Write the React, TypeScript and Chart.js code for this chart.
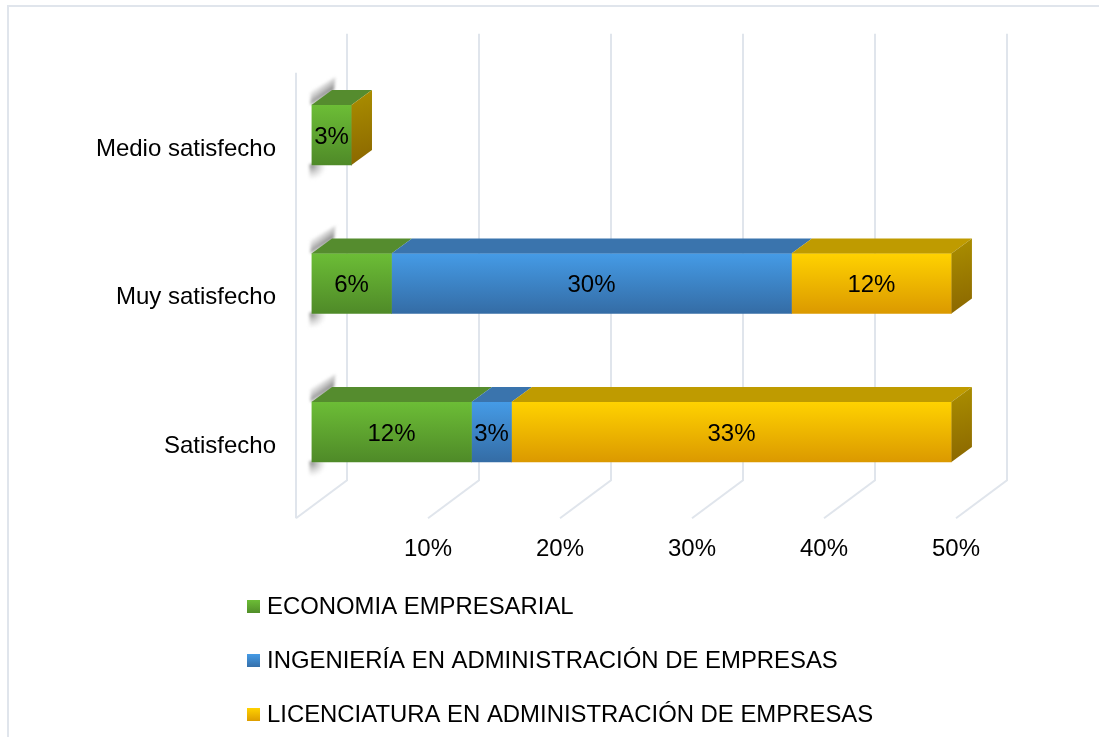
import React, { useEffect, useRef } from "react";
import { Chart, registerables } from "chart.js";

Chart.register(...registerables);

const categories = ["Medio satisfecho", "Muy satisfecho", "Satisfecho"];
const economia = [3.03, 6.06, 12.12];
const ingenieria = [0, 30.3, 3.03];
const licenciatura = [0, 12.12, 33.33];
const seriesNames = [
  "ECONOMIA EMPRESARIAL",
  "INGENIERÍA EN ADMINISTRACIÓN DE EMPRESAS",
  "LICENCIATURA EN ADMINISTRACIÓN DE EMPRESAS",
];
const xTicks = [0, 10, 20, 30, 40, 50];

const FONT = '24px "Liberation Sans", Arial, sans-serif';
const LEGEND_FONT = '23.9px "Liberation Sans", Arial, sans-serif';
const frontGrad: [string, string][] = [
  ["#6cbd36", "#4f8a28"],
  ["#459be6", "#346ca5"],
  ["#ffd200", "#db9900"],
];
const topColors = ["#558c2e", "#3a74ad", "#bf9b00"];
const GRID = "#e0e5ec";
const DX = 20.5;
const DY = -15;

function barGradient(c: any, i: number) {
  const y = c.chart.scales.y;
  const mid = y ? y.getPixelForValue(c.dataIndex) : NaN;
  if (!Number.isFinite(mid)) return frontGrad[i][0];
  const g = c.chart.ctx.createLinearGradient(0, mid - 30, 0, mid + 30);
  g.addColorStop(0, frontGrad[i][0]);
  g.addColorStop(1, frontGrad[i][1]);
  return g;
}

const scene3d = {
  id: "scene3d",
  beforeDraw(chart: any) {
    const { ctx, width, scales } = chart;
    const area = chart.chartArea;
    ctx.save();
    ctx.fillStyle = "#ffffff";
    ctx.fillRect(0, 0, width, chart.height);
    // frame
    ctx.strokeStyle = GRID;
    ctx.lineWidth = 2;
    ctx.beginPath();
    ctx.moveTo(8, 737);
    ctx.lineTo(8, 6);
    ctx.lineTo(1099, 6);
    ctx.stroke();
    // walls
    ctx.beginPath();
    xTicks.forEach((t, i) => {
      const px = scales.x.getPixelForValue(t);
      const fx = px - 15.5;
      const bx = px + 35.5;
      const by = area.bottom - 26;
      ctx.moveTo(fx, area.bottom + 12);
      ctx.lineTo(bx, by);
      ctx.lineTo(bx, area.top - 27);
      if (i === 0) {
        ctx.moveTo(fx, area.bottom + 12);
        ctx.lineTo(fx, area.top + 12);
      }
    });
    ctx.stroke();
    ctx.restore();
  },
  beforeDatasetsDraw(chart: any) {
    const { ctx, scales } = chart;
    const x0 = scales.x.getPixelForValue(0);
    ctx.save();
    categories.forEach((_, i) => {
      const mid = scales.y.getPixelForValue(i);
      const t = mid - 30;
      const b = mid + 30;
      ctx.filter = "blur(1.5px)";
      let g = ctx.createLinearGradient(x0 + 10, t - 7.5, x0 + 2, t - 18.5);
      g.addColorStop(0, "rgba(125,125,125,0.9)");
      g.addColorStop(1, "rgba(190,190,190,0.02)");
      ctx.fillStyle = g;
      ctx.beginPath();
      ctx.moveTo(x0 - 1, t);
      ctx.lineTo(x0 + DX + 2, t + DY);
      ctx.lineTo(x0 + 24, t - 28);
      ctx.lineTo(x0 - 1, t - 13);
      ctx.closePath();
      ctx.fill();
      g = ctx.createRadialGradient(x0, b, 1, x0, b, 15);
      g.addColorStop(0, "rgba(130,130,130,0.85)");
      g.addColorStop(1, "rgba(190,190,190,0)");
      ctx.fillStyle = g;
      ctx.fillRect(x0 - 2, b - 1, 17, 15);
    });
    ctx.restore();
  },
  afterDatasetsDraw(chart: any) {
    const { ctx } = chart;
    ctx.save();
    chart.data.datasets.forEach((_: any, d: number) => {
      chart.getDatasetMeta(d).data.forEach((bar: any) => {
        const x0 = bar.base;
        const x1 = bar.x;
        const t = bar.y - 30;
        if (x1 - x0 > 0.5) {
          ctx.fillStyle = topColors[d];
          ctx.beginPath();
          ctx.moveTo(x0, t);
          ctx.lineTo(x1, t);
          ctx.lineTo(x1 + DX, t + DY);
          ctx.lineTo(x0 + DX, t + DY);
          ctx.closePath();
          ctx.fill();
        }
        if (d === chart.data.datasets.length - 1) {
          const g = ctx.createLinearGradient(x1, t + DY, x1 + DX, t + 60);
          g.addColorStop(0, "#ab8f00");
          g.addColorStop(1, "#8a6600");
          ctx.fillStyle = g;
          ctx.beginPath();
          ctx.moveTo(x1, t);
          ctx.lineTo(x1 + DX, t + DY);
          ctx.lineTo(x1 + DX, t + 60 + DY);
          ctx.lineTo(x1, t + 60);
          ctx.closePath();
          ctx.fill();
        }
      });
    });
    // value labels
    ctx.font = FONT;
    ctx.fillStyle = "#000000";
    ctx.textAlign = "center";
    ctx.textBaseline = "middle";
    chart.data.datasets.forEach((ds: any, d: number) => {
      chart.getDatasetMeta(d).data.forEach((bar: any, i: number) => {
        if (ds.data[i] > 0) {
          ctx.fillText(Math.round(ds.data[i]) + "%", (bar.base + bar.x) / 2, bar.y + 2);
        }
      });
    });
    // legend
    const rows = [607, 661, 715];
    ctx.font = LEGEND_FONT;
    ctx.textAlign = "left";
    chart.data.datasets.forEach((ds: any, d: number) => {
      const y = rows[d];
      const g = ctx.createLinearGradient(0, y - 7, 0, y + 7);
      g.addColorStop(0, frontGrad[d][0]);
      g.addColorStop(1, frontGrad[d][1]);
      ctx.fillStyle = g;
      ctx.fillRect(247, y - 7, 13, 13);
      ctx.fillStyle = "#000000";
      ctx.fillText(ds.label, 267, y);
    });
    ctx.restore();
  },
};

export default function App() {
  const ref = useRef<HTMLCanvasElement>(null);
  useEffect(() => {
    document.body.style.margin = "0";
    const series = [economia, ingenieria, licenciatura];
    const chart = new Chart(ref.current!, {
      type: "bar",
      data: {
        labels: categories,
        datasets: series.map((data, i) => ({
          label: seriesNames[i],
          data,
          backgroundColor: (c: any) => barGradient(c, i),
          barThickness: 60,
          borderWidth: 0,
        })),
      },
      options: {
        indexAxis: "y",
        responsive: false,
        animation: false,
        layout: { padding: { top: 60.75, right: 127.5, left: 0, bottom: 0 } },
        plugins: { legend: { display: false }, title: { display: false }, tooltip: { enabled: false } },
        scales: {
          x: {
            stacked: true,
            min: 0,
            max: 50,
            afterBuildTicks: (s: any) => {
              s.ticks = xTicks.map((value) => ({ value }));
            },
            afterFit: (s: any) => {
              s.height = 230.75;
            },
            grid: { display: false },
            border: { display: false },
            ticks: {
              autoSkip: false,
              maxRotation: 0,
              labelOffset: -15.5,
              padding: 20.5,
              color: "#000000",
              font: { family: '"Liberation Sans", Arial, sans-serif', size: 24 },
              callback: (v: any) => (v === 0 ? "" : v + "%"),
            },
          },
          y: {
            stacked: true,
            afterFit: (s: any) => {
              s.width = 311.5;
            },
            grid: { display: false },
            border: { display: false },
            ticks: {
              labelOffset: 14,
              padding: 27.5,
              color: "#000000",
              font: { family: '"Liberation Sans", Arial, sans-serif', size: 24 },
            },
          },
        },
      },
      plugins: [scene3d],
    } as any);
    return () => chart.destroy();
  }, []);
  return (
    <div style={{ position: "fixed", left: 0, top: 0, width: 1099, height: 737, overflow: "hidden" }}>
      <canvas ref={ref} width={1099} height={737} style={{ display: "block" }} />
    </div>
  );
}
